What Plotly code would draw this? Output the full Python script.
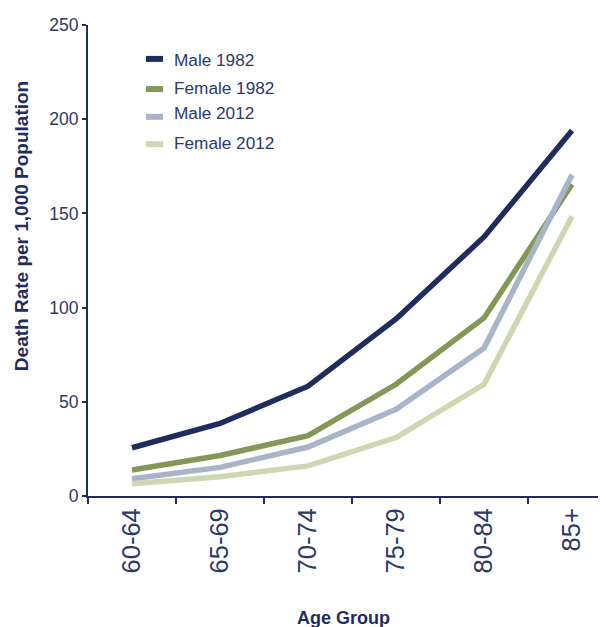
import plotly.graph_objects as go

age_groups = ["60-64", "65-69", "70-74", "75-79", "80-84", "85+"]
male_1982 = [25.6, 38.5, 58.3, 94, 137.5, 194]
female_1982 = [13.8, 21.5, 32, 59.3, 94.5, 165.5]
male_2012 = [9.2, 15.2, 26, 46, 78.5, 170.5]
female_2012 = [6.5, 10.2, 16, 31, 59.3, 148.5]

series_names = ["Male 1982", "Female 1982", "Male 2012", "Female 2012"]
series_values = [male_1982, female_1982, male_2012, female_2012]
series_colors = ["#1f2d5e", "#849757", "#a9b4c9", "#cfd7b2"]

navy = "#1f2d5e"
text_col = "#2b3a67"
font_family = "Liberation Sans, Arial, sans-serif"

fig = go.Figure()
for name, vals, col in zip(series_names, series_values, series_colors):
    fig.add_trace(go.Scatter(
        x=age_groups, y=vals, mode="lines", name=name,
        line=dict(color=col, width=5.5),
    ))

# manual legend (symbol + text positions in paper coords)
sym_y = [0.928, 0.864, 0.805, 0.747]
txt_y = [0.926, 0.866, 0.8132, 0.7495]
shapes = []
annotations = []
for name, col, sy, ty in zip(series_names, series_colors, sym_y, txt_y):
    shapes.append(dict(type="line", xref="paper", yref="paper",
                       x0=0.112, x1=0.1448, y0=sy, y1=sy,
                       line=dict(color=col, width=6)))
    annotations.append(dict(text=name, xref="paper", yref="paper",
                            x=0.1622, y=ty, xanchor="left", yanchor="middle",
                            showarrow=False,
                            font=dict(size=17.2, color=text_col, family=font_family)))

annotations += [
    dict(text="<b>Death Rate per 1,000 Population</b>", textangle=-90,
         xref="paper", yref="paper", x=-0.1293, y=0.573, xanchor="center", yanchor="middle",
         showarrow=False, font=dict(size=19, color=navy, family=font_family)),
    dict(text="<b>Age Group</b>",
         xref="paper", yref="paper", x=0.494, y=-0.259, xanchor="center", yanchor="middle",
         showarrow=False, font=dict(size=18, color=navy, family=font_family)),
]

fig.update_layout(
    width=598, height=619,
    margin=dict(l=80, r=0, t=17, b=131),
    paper_bgcolor="white", plot_bgcolor="white",
    font=dict(family=font_family, color=text_col),
    showlegend=False,
    shapes=shapes,
    annotations=annotations,
    xaxis=dict(
        type="category", range=[-0.5, 5.386],
        showline=True, linecolor=navy, linewidth=2,
        ticks="outside", tickson="boundaries", ticklen=6, tickcolor=navy, tickwidth=2,
        tickangle=-90, tickfont=dict(size=25.5, color=text_col),
        showgrid=False, zeroline=False,
    ),
    yaxis=dict(
        range=[0, 250], dtick=50,
        showline=True, linecolor=navy, linewidth=2,
        ticks="outside", ticklen=4, tickcolor=navy, tickwidth=2,
        tickfont=dict(size=17.5, color=text_col),
        showgrid=False, zeroline=False,
    ),
)

fig.write_html("out.html")
